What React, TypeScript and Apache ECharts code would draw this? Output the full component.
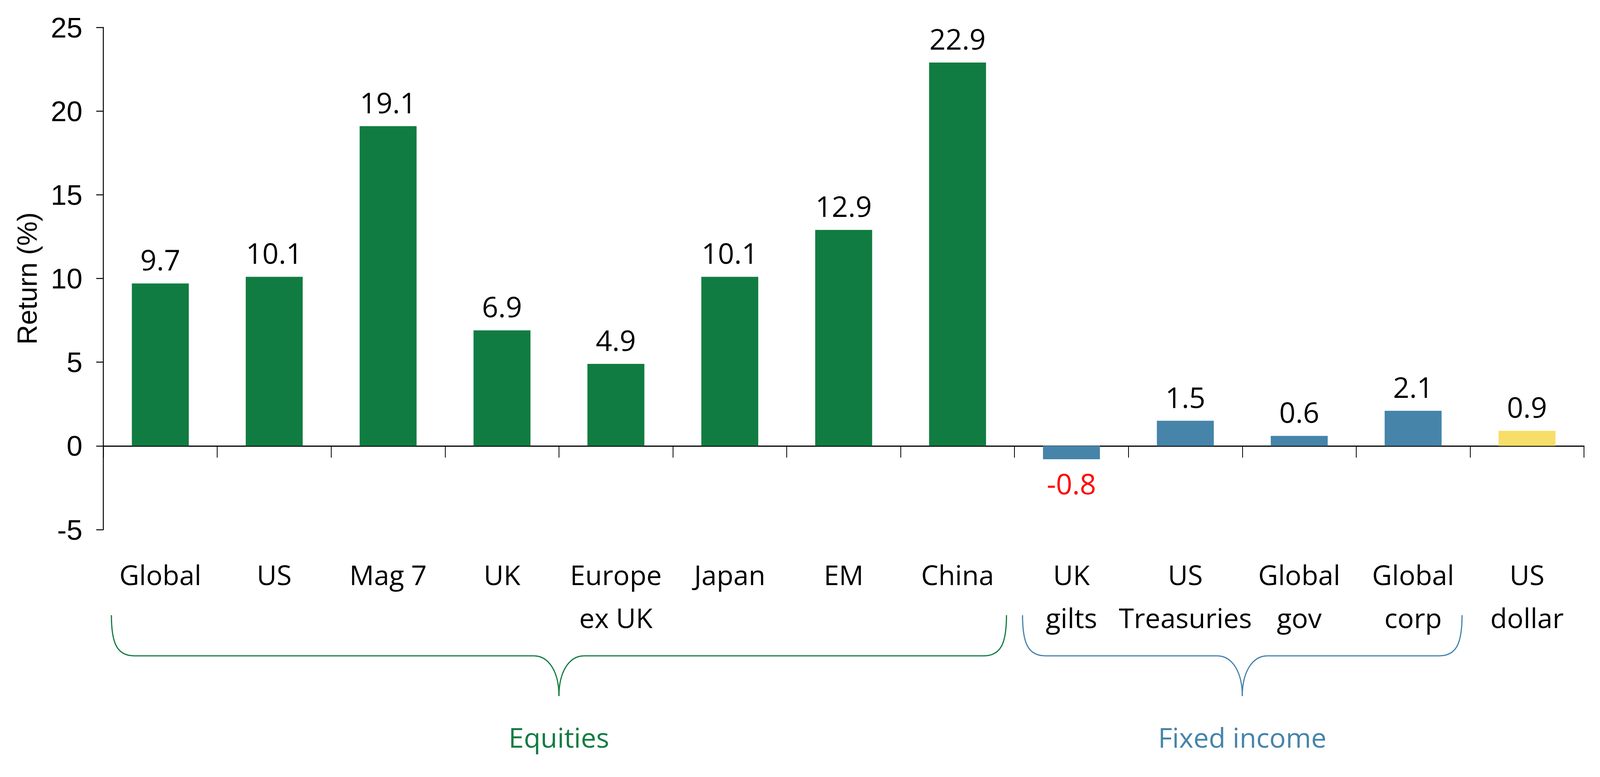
import { FC, useEffect, useRef } from "react";
import * as echarts from "echarts";

// 分类与数值
const categories = [
    "Global", "US", "Mag 7", "UK", "Europe\nex UK", "Japan", "EM", "China",
    "UK\ngilts", "US\nTreasuries", "Global\ngov", "Global\ncorp", "US\ndollar",
];
const returns = [9.7, 10.1, 19.1, 6.9, 4.9, 10.1, 12.9, 22.9, -0.8, 1.5, 0.6, 2.1, 0.9];
// 每根柱子属于哪一类资产
const assetClass = ["eq", "eq", "eq", "eq", "eq", "eq", "eq", "eq", "fi", "fi", "fi", "fi", "fx"];
const yTicks = { min: -5, max: 25, step: 5 };

// 底部大括号分组
const groupNames = ["Equities", "Fixed income"];
const groupFirst = [0, 8];
const groupLast = [7, 11];
const groupClass = ["eq", "fi"];

const colors: Record<string, string> = {
    eq: "#117C41",
    fi: "#4684AA",
    fx: "#F7DE6A",
};
const NEG_COLOR = "#FF0000";

const SANS = "Open Sans";
const ARIAL = "Liberation Sans";
// 参考图尺寸，布局按实际窗口等比换算
const REF_W = 5587;
const REF_H = 1988;

const App: FC = () => {
    const chartRef = useRef<HTMLDivElement>(null);

    useEffect(() => {
        const el = chartRef.current;
        if (!el) return;
        const chart = echarts.init(el, null, { renderer: "svg" });

        const kx = el.clientWidth / REF_W;
        const ky = el.clientHeight / REF_H;
        const kf = Math.min(1, Math.sqrt(kx * ky));
        const sx = (v: number) => v * kx;
        const sy = (v: number) => v * ky;
        const fs = (v: number) => Math.round(v * kf);

        const barData = returns.map((v, i) => ({
            value: v,
            itemStyle: { color: colors[assetClass[i]] },
            label: v < 0 ? { position: "bottom", color: NEG_COLOR } : undefined,
        }));

        const nameSize = fs(82);

        chart.setOption({
            animation: false,
            backgroundColor: "#FFFFFF",
            grid: { left: sx(361), right: sx(56), top: sy(70), bottom: sy(633), containLabel: false },
            xAxis: [
                {
                    type: "category",
                    data: categories,
                    position: "bottom",
                    axisLine: { show: true, onZero: true, lineStyle: { color: "#000", width: 3 } },
                    axisTick: { show: true, length: sy(30), lineStyle: { color: "#000", width: 2 } },
                    axisLabel: { show: false },
                    splitLine: { show: false },
                },
                {
                    type: "category",
                    data: categories,
                    position: "bottom",
                    axisLine: { show: false, onZero: false },
                    axisTick: { show: false },
                    axisLabel: {
                        show: true,
                        interval: 0,
                        margin: sy(60),
                        color: "#000",
                        fontFamily: SANS,
                        fontSize: fs(82),
                        lineHeight: sy(110),
                    },
                    splitLine: { show: false },
                },
            ],
            yAxis: {
                type: "value",
                min: yTicks.min,
                max: yTicks.max,
                interval: yTicks.step,
                name: "Return (%)",
                nameLocation: "middle",
                nameGap: sx(361) - sx(91) - nameSize * 0.55,
                nameTextStyle: { color: "#000", fontFamily: ARIAL, fontSize: nameSize },
                axisLine: { show: true, lineStyle: { color: "#000", width: 2.5 } },
                axisTick: { show: true, length: sx(25), lineStyle: { color: "#000", width: 2.5 } },
                axisLabel: { color: "#000", fontFamily: ARIAL, fontSize: fs(85), margin: sx(73) },
                splitLine: { show: false },
            },
            series: [
                {
                    type: "bar",
                    xAxisIndex: 0,
                    barWidth: "50%",
                    data: barData,
                    label: {
                        show: true,
                        position: "top",
                        distance: sy(25),
                        color: "#000",
                        fontFamily: SANS,
                        fontSize: fs(85),
                        formatter: (p: any) => Number(p.value).toFixed(1),
                    },
                },
            ],
        });

        // 画一个横向大括号（bezierCurve + line 组合）
        const brace = (x0: number, x1: number, yTop: number, yMid: number, yBot: number, color: string) => {
            const xm = (x0 + x1) / 2;
            const w = sx(80); // 两端弯角宽度
            const c = sx(88); // 中间尖角宽度
            const style = { stroke: color, lineWidth: 3, fill: null };
            return [
                { type: "bezierCurve", shape: { x1: x0, y1: yTop, cpx1: x0, cpy1: yTop + (yMid - yTop) * 0.7, cpx2: x0 + w * 0.25, cpy2: yMid, x2: x0 + w, y2: yMid }, style },
                { type: "line", shape: { x1: x0 + w, y1: yMid, x2: xm - c, y2: yMid }, style },
                { type: "bezierCurve", shape: { x1: xm - c, y1: yMid, cpx1: xm - c * 0.4, cpy1: yMid, cpx2: xm, cpy2: yMid + (yBot - yMid) * 0.4, x2: xm, y2: yBot }, style },
                { type: "bezierCurve", shape: { x1: xm + c, y1: yMid, cpx1: xm + c * 0.4, cpy1: yMid, cpx2: xm, cpy2: yMid + (yBot - yMid) * 0.4, x2: xm, y2: yBot }, style },
                { type: "line", shape: { x1: xm + c, y1: yMid, x2: x1 - w, y2: yMid }, style },
                { type: "bezierCurve", shape: { x1: x1, y1: yTop, cpx1: x1, cpy1: yTop + (yMid - yTop) * 0.7, cpx2: x1 - w * 0.25, cpy2: yMid, x2: x1 - w, y2: yMid }, style },
            ];
        };

        // 根据坐标轴换算大括号位置
        const c0 = chart.convertToPixel({ xAxisIndex: 0 }, 0) as number;
        const c1 = chart.convertToPixel({ xAxisIndex: 0 }, 1) as number;
        const band = c1 - c0;
        const base = chart.convertToPixel({ yAxisIndex: 0 }, yTicks.min) as number;
        const elements: any[] = [];
        groupNames.forEach((name, g) => {
            const inset = sx(28);
            const left = c0 + (groupFirst[g] - 0.5) * band + inset;
            const right = c0 + (groupLast[g] + 0.5) * band - inset;
            const color = colors[groupClass[g]];
            elements.push(...brace(left, right, base + sy(219), base + sy(323), base + sy(426), color));
            elements.push({
                type: "text",
                x: (left + right) / 2,
                y: base + sy(531),
                style: {
                    text: name,
                    fill: color,
                    font: `${fs(82)}px "${SANS}"`,
                    align: "center",
                    verticalAlign: "middle",
                },
            });
        });
        chart.setOption({ graphic: elements });

        return () => {
            chart.dispose();
        };
    }, []);

    return (
        <div
            ref={chartRef}
            style={{ position: "fixed", left: 0, top: 0, width: "100vw", height: "100vh" }}
        />
    );
};

export default App;
